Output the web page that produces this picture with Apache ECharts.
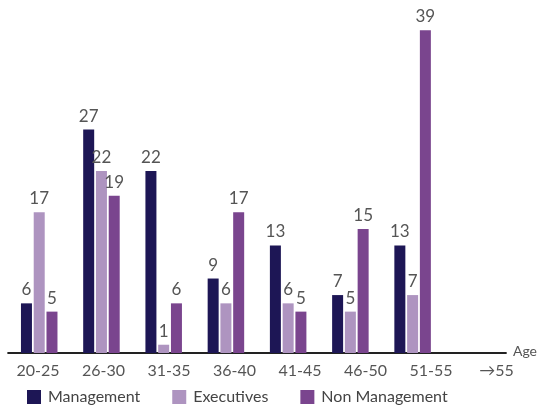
<!DOCTYPE html>
<html><head><meta charset="utf-8">
<script src="https://cdn.jsdelivr.net/npm/echarts@6/dist/echarts.min.js"></script>
<style>html,body{margin:0;padding:0;background:#fff}#c{width:540px;height:410px}</style>
</head><body><div id="c"></div>
<script>
var categories = ['20-25','26-30','31-35','36-40','41-45','46-50','51-55','\u219255'];
var management = [6, 27, 22, 9, 13, 7, 13, null];
var executives = [17, 22, 1, 6, 6, 5, 7, null];
var nonManagement = [5, 19, 6, 17, 5, 15, 39, null];

var FONT = "Lato, 'DejaVu Sans Condensed', sans-serif";
var labelStyle = {show: true, position: 'top', distance: 5, color: '#555', fontSize: 17, fontFamily: FONT};
function bar(name, data, color) {
  return {name: name, type: 'bar', data: data, barWidth: 11, barGap: '16%',
    itemStyle: {color: color}, label: labelStyle, xAxisIndex: 0, yAxisIndex: 0};
}
var chart = echarts.init(document.getElementById('c'), null, {renderer: 'canvas'});
chart.setOption({
  animation: false,
  grid: [
    {left: 8.1, width: 502.6, top: 22, height: 331},
    {left: 5.25, width: 524, top: 22, height: 331}
  ],
  legend: {left: 27, top: 389, padding: 0, itemWidth: 14, itemHeight: 14, itemGap: 32, icon: 'rect',
    textStyle: {fontSize: 16, color: '#444', fontFamily: FONT, padding: [0, 0, 0, 2]},
    data: ['Management', 'Executives', 'Non Management']},
  xAxis: [
    {type: 'category', data: categories, gridIndex: 0, name: 'Age', nameLocation: 'end', nameGap: 7,
     nameTextStyle: {color: '#555', fontSize: 14, fontFamily: FONT, verticalAlign: 'bottom', padding: [0,0,-5,0]},
     axisLine: {lineStyle: {color: '#222', width: 2}}, axisTick: {show: false}, axisLabel: {show: false}},
    {type: 'category', data: categories, gridIndex: 1,
     axisLine: {show: false}, axisTick: {show: false},
     axisLabel: {color: '#555', fontSize: 16, fontFamily: FONT, margin: 10}}
  ],
  yAxis: [
    {type: 'value', min: 0, max: 40, gridIndex: 0, show: false},
    {type: 'value', min: 0, max: 40, gridIndex: 1, show: false}
  ],
  series: [
    bar('Management', management, '#1d1655'),
    bar('Executives', executives, '#ae94c0'),
    bar('Non Management', nonManagement, '#7a458e')
  ]
});
</script></body></html>
